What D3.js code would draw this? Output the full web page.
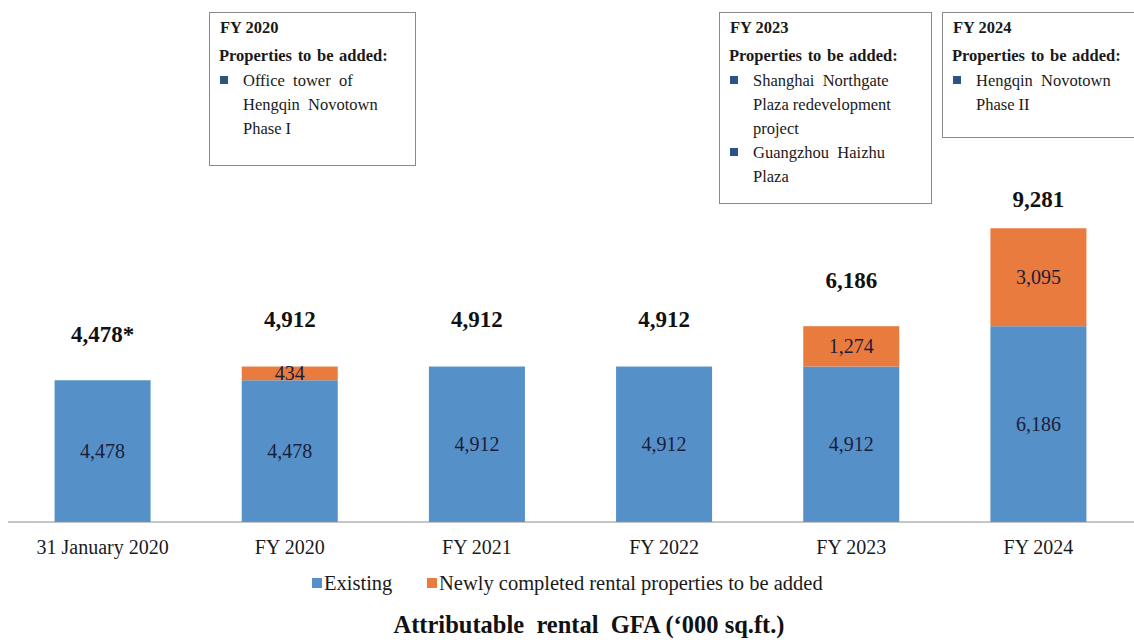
<html>
<head>
    <title>Attributable rental GFA</title>
    <script src="https://d3js.org/d3.v7.min.js"></script>
</head>
<style>
    body { margin: 0; background: #fff; }
    text { font-family: "Liberation Serif", "Times New Roman", serif; }
    .boxText { font-size: 16.5px; fill: #1a1a1a; }
</style>
<body>
    <script>
        // chart data
        let categories = ["31 January 2020", "FY 2020", "FY 2021", "FY 2022", "FY 2023", "FY 2024"];
        let existing = [4478, 4478, 4912, 4912, 4912, 6186];
        let added = [0, 434, 0, 0, 1274, 3095];
        let totalLabels = ["4,478*", "4,912", "4,912", "4,912", "6,186", "9,281"];
        let seriesNames = ["Existing", "Newly completed rental properties to be added"];

        // annotation boxes
        let boxTitles = ["FY 2020", "FY 2023", "FY 2024"];
        let boxItems = [
            [["Office  tower  of", "Hengqin  Novotown", "Phase I"]],
            [["Shanghai  Northgate", "Plaza redevelopment", "project"], ["Guangzhou  Haizhu", "Plaza"]],
            [["Hengqin  Novotown", "Phase II"]]
        ];

        let svgwidth = 1134, svgheight = 640;
        let baseY = 522;
        let colors = ["#5591C8", "#E97B3F"];

        let svg = d3.select("body").append("svg")
            .attr("width", svgwidth)
            .attr("height", svgheight);

        let x = d3.scaleBand()
            .domain(categories)
            .range([9, 1132])
            .paddingInner(0.487)
            .paddingOuter(0.2435);

        let y = d3.scaleLinear()
            .domain([0, 10000])
            .range([baseY, baseY - 316.5]);

        let rows = categories.map(function (c, i) {
            return { cat: c, Existing: existing[i], Added: added[i] };
        });
        let stacked = d3.stack().keys(["Existing", "Added"])(rows);

        // bars
        let layers = svg.selectAll(".layer")
            .data(stacked)
            .enter().append("g")
            .attr("fill", function (d, i) { return colors[i]; });

        layers.selectAll("rect")
            .data(function (d) { return d; })
            .enter().append("rect")
            .attr("x", function (d) { return x(d.data.cat); })
            .attr("width", x.bandwidth())
            .attr("y", function (d) { return y(d[1]); })
            .attr("height", function (d) { return y(d[0]) - y(d[1]); });

        // segment labels
        layers.selectAll("text")
            .data(function (d) { return d.filter(function (s) { return s[1] - s[0] > 0; }); })
            .enter().append("text")
            .attr("x", function (d) { return x(d.data.cat) + x.bandwidth() / 2; })
            .attr("y", function (d) { return (y(d[0]) + y(d[1])) / 2; })
            .attr("dy", "0.35em")
            .attr("text-anchor", "middle")
            .attr("font-size", 20)
            .attr("fill", "#1c1d3a")
            .text(function (d) { return d3.format(",")(d[1] - d[0]); });

        // total labels above bars
        let totalLift = [38, 40, 40, 40, 38, 21];
        svg.selectAll(".total")
            .data(categories)
            .enter().append("text")
            .attr("class", "total")
            .attr("x", function (d) { return x(d) + x.bandwidth() / 2; })
            .attr("y", function (d, i) { return y(existing[i] + added[i]) - totalLift[i]; })
            .attr("text-anchor", "middle")
            .attr("font-size", 23)
            .attr("font-weight", "bold")
            .attr("fill", "#111")
            .text(function (d, i) { return totalLabels[i]; });

        // x axis
        let xAxis = svg.append("g")
            .attr("transform", "translate(0," + baseY + ")")
            .call(d3.axisBottom(x).tickSize(0).tickPadding(18));
        xAxis.select(".domain").attr("d", "M8,0H1134").attr("stroke", "#8c8c8c");
        xAxis.selectAll("text")
            .attr("font-size", 20)
            .attr("fill", "#1a1a1a")
            .style("font-family", "'Liberation Serif', serif");

        // legend
        let legendX = [312, 427];
        let legend = svg.selectAll(".legend")
            .data(seriesNames)
            .enter().append("g")
            .attr("transform", function (d, i) { return "translate(" + legendX[i] + ",583)"; });
        legend.append("rect")
            .attr("x", 0).attr("y", -5)
            .attr("width", 10).attr("height", 10)
            .attr("fill", function (d, i) { return colors[i]; });
        legend.append("text")
            .attr("x", 12)
            .attr("dy", "0.35em")
            .attr("font-size", 20.5)
            .attr("fill", "#1a1a1a")
            .text(function (d) { return d; });

        // bottom title
        svg.append("text")
            .attr("x", 589)
            .attr("y", 633)
            .attr("text-anchor", "middle")
            .attr("font-size", 24.5)
            .attr("font-weight", "bold")
            .attr("fill", "#111")
            .attr("xml:space", "preserve")
            .style("white-space", "pre")
            .text("Attributable  rental  GFA (\u2018000 sq.ft.)");

        // annotation boxes
        let boxLayout = [
            { x: 209, y: 12, w: 206, h: 153 },
            { x: 719, y: 12, w: 212, h: 191 },
            { x: 942, y: 12, w: 200, h: 125 }
        ];
        boxTitles.forEach(function (title, b) {
            let L = boxLayout[b];
            let g = svg.append("g").attr("transform", "translate(" + L.x + "," + L.y + ")");
            g.append("rect")
                .attr("x", 0.5).attr("y", 0.5)
                .attr("width", L.w).attr("height", L.h)
                .attr("fill", "#fff")
                .attr("stroke", "#8a8a8a");
            g.append("text")
                .attr("class", "boxText")
                .attr("x", 11).attr("y", 21)
                .attr("font-weight", "bold")
                .text(title);
            g.append("text")
                .attr("class", "boxText")
                .attr("x", 10).attr("y", 49)
                .attr("font-weight", "bold")
                .attr("word-spacing", 1.5)
                .text("Properties to be added:");
            let lineY = 74;
            boxItems[b].forEach(function (item) {
                g.append("rect")
                    .attr("x", 11).attr("y", lineY - 10)
                    .attr("width", 8).attr("height", 8)
                    .attr("fill", "#2B5383");
                item.forEach(function (line) {
                    g.append("text")
                        .attr("class", "boxText")
                        .attr("x", 34).attr("y", lineY)
                        .attr("xml:space", "preserve")
                        .style("white-space", "pre")
                        .text(line);
                    lineY += 24;
                });
            });
        });
    </script>
</body>
</html>
